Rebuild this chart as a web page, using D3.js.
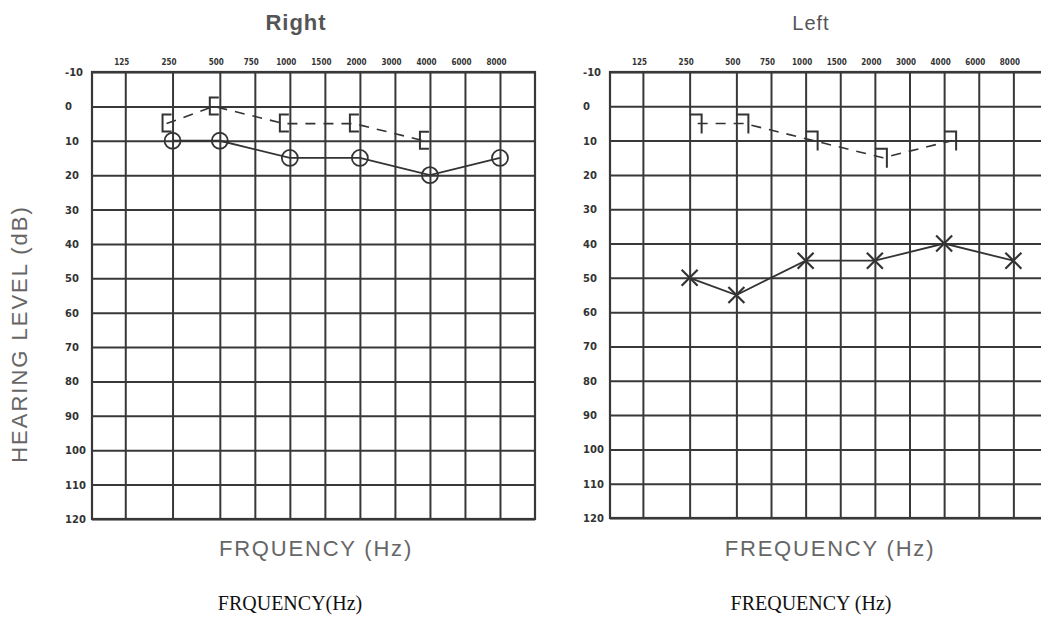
<!DOCTYPE html>
<html>
<head>
<meta charset="utf-8">
<script src="https://cdn.jsdelivr.net/npm/d3@7"></script>
<style>
  body { margin: 0; background: #fff; }
  svg { display: block; }
  .grid line { stroke: #383838; stroke-width: 2; }
  .grid path { display: none; }
  .ylab text { font-family: "DejaVu Sans", sans-serif; font-weight: bold; font-size: 10px; fill: #333; }
  .xlab text { font-family: "DejaVu Sans Condensed", "DejaVu Sans", sans-serif; font-weight: bold; font-size: 8px; fill: #333; }
  .title { font-family: "Liberation Sans", Arial, sans-serif; fill: #555; }
  .caption { font-family: "Liberation Serif", "Times New Roman", serif; font-size: 20px; fill: #111; }
</style>
</head>
<body>
<svg id="chart" width="1041" height="633"></svg>
<script>
// audiogram frequencies + tick labels
var freqs = [125, 250, 500, 750, 1000, 1500, 2000, 3000, 4000, 6000, 8000];
var freqLabels = ['125', '250', '500', '750', '1000', '1500', '2000', '3000', '4000', '6000', '8000'];
var levels = [-10, 0, 10, 20, 30, 40, 50, 60, 70, 80, 90, 100, 110, 120];

// measured thresholds (dB HL)
var airFreqs = [250, 500, 1000, 2000, 4000, 8000];
var boneFreqs = [250, 500, 1000, 2000, 4000];
var rightAir = [10, 10, 15, 15, 20, 15];
var rightBone = [5, 0, 5, 5, 10];
var leftAir = [50, 55, 45, 45, 40, 45];
var leftBone = [5, 5, 10, 15, 10];

// grid column spacing of the printed form (first two are octaves, rest half steps)
var slots = [0.95, 2.3, 3.65, 4.65, 5.65, 6.65, 7.65, 8.65, 9.65, 10.65, 11.65];
var slotTotal = 12.65;

var svg = d3.select('#chart');
svg.append('rect').attr('width', 1041).attr('height', 633).attr('fill', '#fff');

function audiogram(opts) {
  var g = svg.append('g');
  var unit = d3.scaleLinear().domain([0, slotTotal]).range([opts.left, opts.right]);
  var x = d3.scaleOrdinal().domain(freqs).range(slots.map(unit));
  var y = d3.scaleLinear().domain([-10, 120]).range([opts.top, opts.bottom]);
  var w = opts.right - opts.left, h = opts.bottom - opts.top;

  // horizontal grid
  g.append('g').attr('class', 'grid')
    .attr('transform', 'translate(' + opts.left + ',0)')
    .call(d3.axisLeft(y).tickValues(levels).tickSize(-w).tickFormat(''));
  // vertical grid
  g.append('g').attr('class', 'grid')
    .attr('transform', 'translate(0,' + opts.top + ')')
    .call(d3.axisTop(x).tickSize(-h).tickFormat(''));
  g.append('rect')
    .attr('x', opts.left).attr('y', opts.top)
    .attr('width', w).attr('height', h)
    .attr('fill', 'none').attr('stroke', '#383838').attr('stroke-width', 2.2);

  // level labels
  var yl = g.append('g').attr('class', 'ylab')
    .attr('transform', 'translate(' + opts.left + ',0)')
    .call(d3.axisLeft(y).tickValues(levels).tickSize(0).tickPadding(0).tickFormat(String));
  yl.select('.domain').remove();
  yl.selectAll('text').attr('text-anchor', 'start').attr('x', -27).attr('dy', '0.35em');

  // frequency labels
  var xl = g.append('g').attr('class', 'xlab')
    .attr('transform', 'translate(-4,' + (opts.top - 7) + ')')
    .call(d3.axisTop(x).tickSize(0).tickPadding(0)
      .tickFormat(function(d, i){ return freqLabels[i]; }));
  xl.select('.domain').remove();

  var ink = '#333';

  // bone conduction, dashed
  var bone = boneFreqs.map(function(f, i){ return {f: f, v: opts.bone[i]}; });
  g.append('path')
    .datum(bone)
    .attr('fill', 'none').attr('stroke', ink).attr('stroke-width', 1.6)
    .attr('stroke-dasharray', '10,8')
    .attr('d', d3.line()
      .x(function(d){ return x(d.f) + opts.boneShift; })
      .y(function(d){ return y(d.v); }));
  g.selectAll('.bracket')
    .data(bone).enter()
    .append('path')
    .attr('class', 'bracket')
    .attr('fill', 'none').attr('stroke', ink).attr('stroke-width', 2)
    .attr('d', function(d){
      var cx = x(d.f), cy = y(d.v);
      if (opts.side === 'right') {
        return 'M' + (cx - 1) + ',' + (cy - 9) + 'H' + (cx - 10) + 'V' + (cy + 8) + 'H' + (cx - 1);
      }
      return 'M' + cx + ',' + (cy - 9) + 'H' + (cx + 12) + 'V' + (cy + 10);
    });

  // air conduction, solid
  var air = airFreqs.map(function(f, i){ return {f: f, v: opts.air[i]}; });
  g.append('path')
    .datum(air)
    .attr('fill', 'none').attr('stroke', ink).attr('stroke-width', 1.8)
    .attr('d', d3.line()
      .x(function(d){ return x(d.f); })
      .y(function(d){ return y(d.v); }));

  if (opts.side === 'right') {
    g.selectAll('.mark')
      .data(air).enter()
      .append('circle')
      .attr('class', 'mark')
      .attr('cx', function(d){ return x(d.f); })
      .attr('cy', function(d){ return y(d.v); })
      .attr('r', 8)
      .attr('fill', 'none').attr('stroke', ink).attr('stroke-width', 1.8);
  } else {
    g.selectAll('.mark')
      .data(air).enter()
      .append('path')
      .attr('class', 'mark')
      .attr('fill', 'none').attr('stroke', ink).attr('stroke-width', 2.2)
      .attr('d', function(d){
        var cx = x(d.f), cy = y(d.v), s = 8;
        return 'M' + (cx - s) + ',' + (cy - s) + 'L' + (cx + s) + ',' + (cy + s) +
               'M' + (cx + s) + ',' + (cy - s) + 'L' + (cx - s) + ',' + (cy + s);
      });
  }

  // texts
  svg.append('text').attr('class', 'title')
    .attr('x', opts.titleX).attr('y', 30)
    .attr('text-anchor', 'middle')
    .style('font-size', opts.titleSize + 'px')
    .style('font-weight', opts.titleWeight)
    .style('letter-spacing', '1px')
    .text(opts.title);
  svg.append('text').attr('class', 'title')
    .attr('x', opts.axisX).attr('y', 556)
    .attr('text-anchor', 'middle')
    .style('font-size', '22px').style('letter-spacing', '1.8px').style('fill', '#666')
    .text(opts.axisLabel);
  svg.append('text').attr('class', 'caption')
    .attr('x', opts.captionX).attr('y', 610)
    .attr('text-anchor', 'middle')
    .text(opts.caption);
}

audiogram({
  side: 'right', left: 92, right: 535, top: 72, bottom: 519,
  air: rightAir, bone: rightBone, boneShift: -6,
  title: 'Right', titleX: 296, titleSize: 22, titleWeight: 'bold',
  axisLabel: 'FRQUENCY (Hz)', axisX: 316,
  caption: 'FRQUENCY(Hz)', captionX: 290
});

audiogram({
  side: 'left', left: 610, right: 1048, top: 72, bottom: 518,
  air: leftAir, bone: leftBone, boneShift: 8,
  title: 'Left', titleX: 811, titleSize: 20, titleWeight: 'normal',
  axisLabel: 'FREQUENCY (Hz)', axisX: 830,
  caption: 'FREQUENCY (Hz)', captionX: 811
});

// shared y title
svg.append('text').attr('class', 'title')
  .attr('transform', 'translate(27,334) rotate(-90)')
  .attr('text-anchor', 'middle')
  .style('font-size', '22px').style('letter-spacing', '2px').style('fill', '#666')
  .text('HEARING LEVEL (dB)');
</script>
</body>
</html>
